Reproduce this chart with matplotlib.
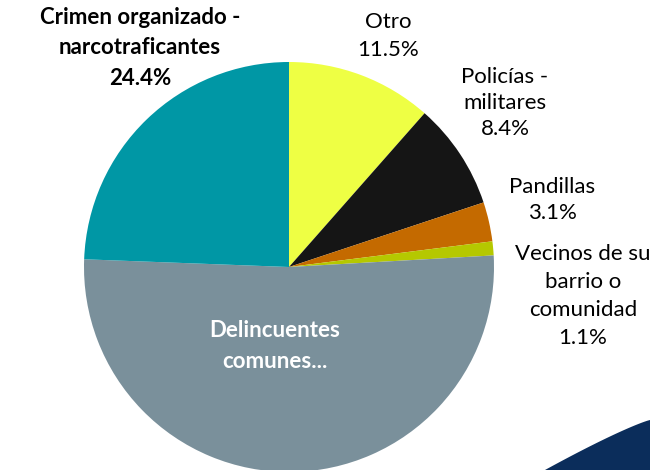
import matplotlib.pyplot as plt
from matplotlib.patches import Polygon
import numpy as np

# Data (clockwise from 12 o'clock)
categories = ["Otro", "Policías -\nmilitares", "Pandillas", "Vecinos de su\nbarrio o\ncomunidad",
              "Delincuentes\ncomunes...", "Crimen organizado -\nnarcotraficantes"]
values = [11.5, 8.4, 3.1, 1.1, 51.5, 24.4]
colors = ["#EEFF44", "#151515", "#C46A00", "#B5C800", "#7A909B", "#0097A5"]

plt.rcParams['font.family'] = ['Lato', 'DejaVu Sans']

fig = plt.figure(figsize=(6.5, 4.7), dpi=100)
ax = fig.add_axes([0, 0, 1, 1])

ax.pie(values, colors=colors, startangle=90, counterclock=False,
       center=(289, 470 - 267), radius=205, frame=True,
       wedgeprops=dict(linewidth=0))
ax.set_xlim(0, 650)
ax.set_ylim(0, 470)
ax.set_aspect('equal')
ax.axis('off')

# decorative swoosh in the lower right corner
t = np.linspace(0, 1, 40)
xs = 545 + (650 - 545) * t
ys = 50 * (1 - (1 - t) ** 1.15)
swoosh = np.column_stack([np.r_[xs, 650], np.r_[ys, 0]])
ax.add_patch(Polygon(swoosh, closed=True, color="#0B2D5B", lw=0, zorder=0))

# labels
fs = 16
def lab(i, x, y, ls=1.5, **kw):
    txt = categories[i]
    if i != 4:
        txt = txt + "\n%.1f%%" % values[i]
    ax.text(x, 470 - y, txt, ha='center', va='center', fontsize=fs, linespacing=ls, **kw)

lab(5, 140, 48, ls=1.55, fontweight='bold', color='black')
lab(0, 388, 36, color='black')
lab(1, 505, 103, ls=1.4, color='black')
lab(2, 552, 200, ls=1.4, color='black')
lab(3, 583, 296, color='black')
lab(4, 275, 346, ls=1.55, fontweight='bold', color='white')

fig.savefig("out.png", dpi=100)
